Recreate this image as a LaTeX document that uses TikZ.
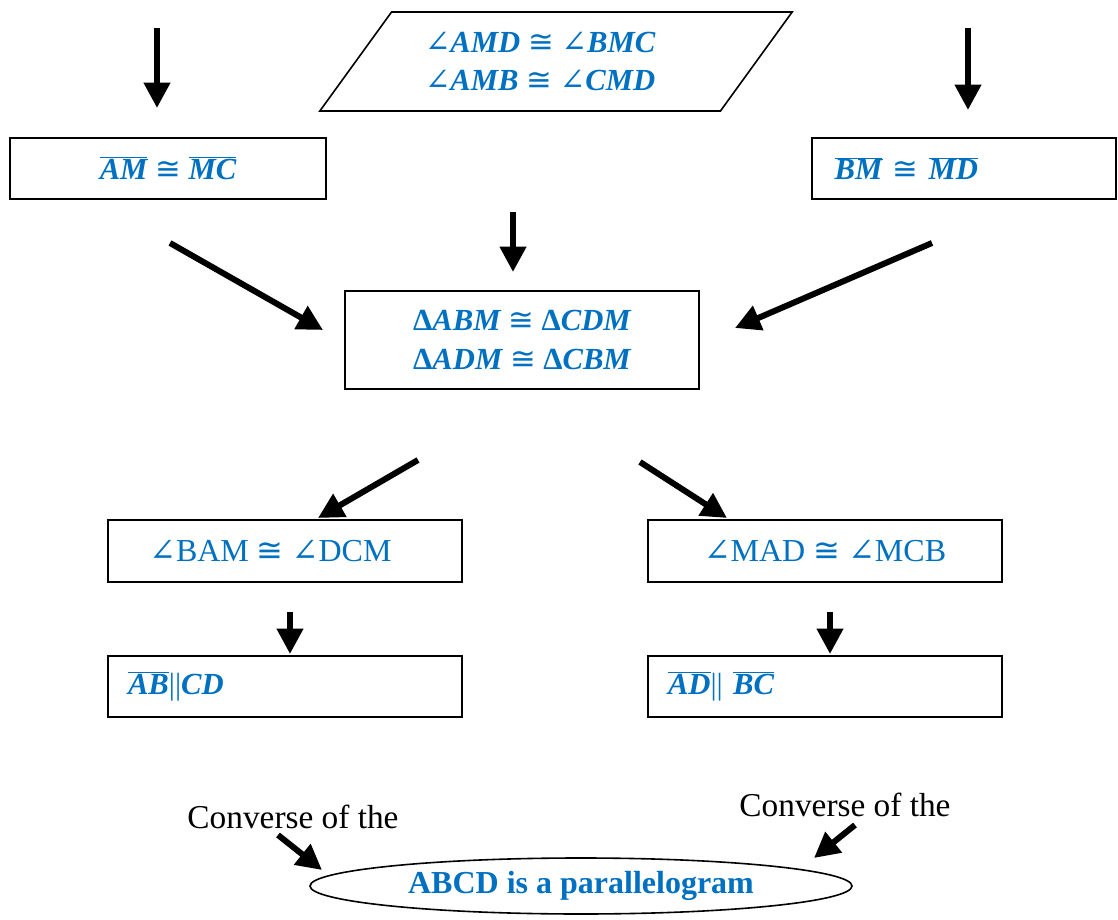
\documentclass[tikz,border=0pt]{standalone}
\usepackage{fontspec}
\setmainfont{Liberation Serif}
\newfontfamily\dvfont{DejaVu Serif}
\newfontfamily\dvsans{DejaVu Sans}
\usepackage{tikz}
\usetikzlibrary{arrows.meta, positioning, shapes.geometric}
\definecolor{wordblue}{RGB}{0, 112, 192}
\newcommand{\ang}{{\dvfont\mdseries\upshape ∠}}
\newcommand{\cng}{{\dvsans\mdseries\upshape ≅}}
\newcommand{\seg}[1]{$\overline{\mbox{#1}}$}

\tikzset{
  box/.style={draw, line width=1.2pt, inner sep=0pt, text=wordblue},
  bigarrow/.style={line width=4.5pt, -{Triangle[width=19pt,length=19pt]}},
}

\begin{document}
\begin{tikzpicture}[x=0.75pt, y=-0.75pt]
\useasboundingbox (0,0) rectangle (1118,920);
% given angles
\node[draw, line width=1.2pt, trapezium, trapezium stretches=true, trapezium left angle=46, trapezium right angle=134, minimum width=355.5pt, minimum height=74.25pt, inner sep=0pt, text=wordblue, align=center, font=\fontsize{23}{29}\selectfont\bfseries\itshape] (given) at (556,61.5) {\ang AMD \cng\ \ang BMC\hspace*{24pt}\\ \ang AMB \cng\ \ang CMD\hspace*{24pt}};
% segments
\node[box, minimum width=237pt, minimum height=45.75pt, font=\fontsize{23}{26}\selectfont\bfseries\itshape] (am) at (168,168.5) {\seg{AM} \cng\ \seg{MC}};
\node[box, text width=194pt, inner xsep=17pt, minimum height=45.75pt, align=left, font=\fontsize{23}{26}\selectfont\bfseries\itshape] (bm) at (964,168.5) {\seg{BM} \cng\ \seg{MD}};
% triangles
\node[box, minimum width=265.5pt, minimum height=73.5pt, align=center, font=\fontsize{23}{29}\selectfont\bfseries\itshape] (tri) at (522,340) {{\upshape Δ}ABM \cng\ {\upshape Δ}CDM\\ {\upshape Δ}ADM \cng\ {\upshape Δ}CBM};
% angles
\node[box, minimum width=265.5pt, minimum height=46.5pt, font=\fontsize{24}{28}\selectfont] (bam) at (285,551) {\ang BAM \cng\ \ang DCM\hspace*{22pt}};
\node[box, minimum width=265.5pt, minimum height=46.5pt, font=\fontsize{24}{28}\selectfont] (mad) at (825,551) {\ang MAD \cng\ \ang MCB};
% parallel sides
\node[box, text width=235.5pt, inner xsep=15pt, minimum height=45.75pt, align=left, font=\fontsize{23}{26}\selectfont\bfseries\itshape] (ab) at (285,686.5) {\seg{AB}{\mdseries\upshape||}CD};
\node[box, text width=235.5pt, inner xsep=15pt, minimum height=45.75pt, align=left, font=\fontsize{23}{26}\selectfont\bfseries\itshape] (ad) at (825,686.5) {\seg{AD}{\mdseries\upshape||} \seg{BC}};
% conclusion
\node[draw, ellipse, line width=1.2pt, minimum width=406.5pt, minimum height=42pt, inner sep=0pt, text=wordblue, font=\fontsize{24}{28}\selectfont\bfseries] (goal) at (581,886) {ABCD is a parallelogram};
\node[font=\fontsize{25}{30}\selectfont] (convl) at (293,817) {Converse of the};
\node[font=\fontsize{25}{30}\selectfont] (convr) at (845,805) {Converse of the};
% arrows
\foreach \n/\sx/\sy/\ex/\ey in {1/157/28/157/108, 2/968/28/968/110, 3/513/212/513/272,
    4/170/243/323/330, 5/932/243/735/328, 6/418/460/318/518, 7/640/462/727/518,
    8/290/612/290/654, 9/830/612/830/654, 10/278/835/322/870, 11/855/825/814/858}{
  \coordinate (s\n) at (\sx,\sy);
  \coordinate (e\n) at (\ex,\ey);
  \draw[bigarrow] (s\n) -- (e\n);
}
\end{tikzpicture}
\end{document}
